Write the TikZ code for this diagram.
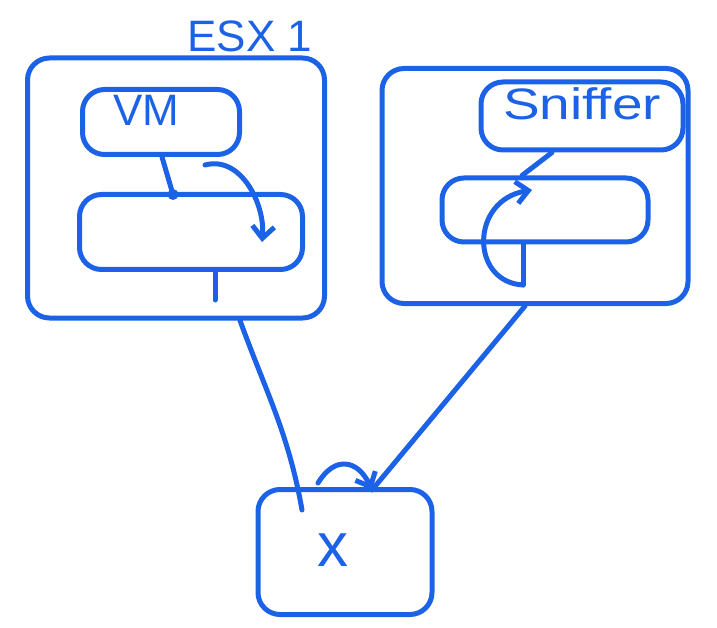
\documentclass[tikz,border=0pt]{standalone}
\usepackage{fontspec}
\setmainfont{Liberation Sans}
\usetikzlibrary{positioning, calc, arrows.meta}
\definecolor{pen}{HTML}{1C62E6}
\newcommand{\BigF}{\fontsize{44}{50}\selectfont}
\tikzset{
  sketch/.style={draw=pen, line width=5pt, line cap=round, line join=round},
  box/.style={sketch, rounded corners=22pt, inner sep=0pt},
  hand/.style={text=pen, font=\BigF, inner sep=0pt},
  barb/.style={-{Straight Barb[length=12pt,width=22pt]}}
}
\begin{document}
\begin{tikzpicture}[x=1pt,y=-1pt]
\useasboundingbox (0,0) rectangle (717,628);
\node[box, minimum width=297, minimum height=260] (host1) at (176,188) {};
\node[hand] (esxlbl) at (250,36) {ESX 1};
\node[box, minimum width=157, minimum height=65] (vm) at (161,122) {};
\node[hand] (vmlbl) at (146,110) {VM};
\node[box, minimum width=223, minimum height=75] (vsw1) at (191,232) {};
\node[box, minimum width=306, minimum height=235] (host2) at (535,186) {};
\node[box, minimum width=202, minimum height=68] (sniffer) at (582,116) {};
\node[hand, xscale=1.25, transform shape] (snifflbl) at (582,104) {Sniffer};
\node[box, minimum width=206, minimum height=64] (vsw2) at (545,210) {};
\node[box, minimum width=174, minimum height=125] (phys) at (345,552) {};
\node[hand, font=\fontsize{62}{70}\selectfont] (physlbl) at (333,550) {x};
\coordinate (vmport) at (173,194.5);
\coordinate (loopin) at (205,165);
\coordinate (loopout) at (262,242);
\coordinate (up1) at (215,300);
\coordinate (mirror) at (523,285);
\coordinate (mirrortip) at (532,190);
\coordinate (p1) at (302,510);
\coordinate (p2) at (372,490);
\coordinate (hump) at (318,483);
\draw[sketch] (vm.south -| 162,0) -- (vmport);
\fill[pen] (vmport) circle (5.5);
\draw[sketch, barb] (loopin) to[out=15,in=85] (loopout);
\draw[sketch] (vsw1.south -| up1) -- (up1);
\draw[sketch] (sniffer.south -| 552,0) -- (vsw2.north -| 522,0);
\draw[sketch] (vsw2.south -| mirror) -- (mirror);
\draw[sketch, barb] (mirror) .. controls (470,282) and (470,200) .. (mirrortip);
\draw[sketch] (host1.south -| 240,0) to[out=-70,in=100] (p1);
\draw[sketch] (host2.south -| 525,0) -- (p2);
\draw[sketch, barb] (hump) .. controls (335,455) and (358,460) .. (p2);
\end{tikzpicture}
\end{document}
